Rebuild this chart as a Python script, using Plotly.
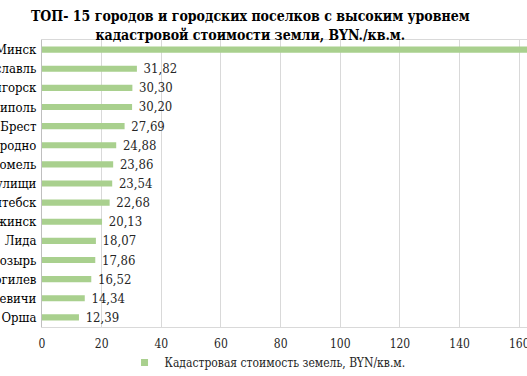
import plotly.graph_objects as go

cities = ["Минск", "Заславль", "Солигорск", "Фаниполь", "Брест", "Гродно", "Гомель",
          "Мачулищи", "Витебск", "Дзержинск", "Лида", "Мозырь", "Могилев", "Смолевичи", "Орша"]
values = [175.0, 31.82, 30.30, 30.20, 27.69, 24.88, 23.86, 23.54, 22.68, 20.13, 18.07,
          17.86, 16.52, 14.34, 12.39]
value_labels = ["\u00a0" + f"{v:.2f}".replace(".", ",") for v in values]
x_ticks = [0, 20, 40, 60, 80, 100, 120, 140, 160]
series_name = "Кадастровая стоимость земель, BYN/кв.м."
title_text = "ТОП- 15 городов и городских поселков с высоким уровнем<br>кадастровой стоимости земли, BYN./кв.м."

FONT = "DejaVu Serif Condensed, DejaVu Serif"
GREEN = "#a9d08e"

fig = go.Figure()
fig.add_trace(go.Bar(
    x=values, y=cities, orientation="h",
    marker=dict(color=GREEN, line=dict(width=0)),
    text=value_labels, textposition="outside", cliponaxis=True, constraintext="none",
    textfont=dict(family=FONT, size=13, color="#262626"),
    name=series_name, showlegend=False,
))
# legend entry with a small square swatch
fig.add_trace(go.Scatter(
    x=[None], y=[None], mode="markers", name=series_name,
    marker=dict(symbol="square", size=7, color=GREEN), showlegend=True,
))

fig.update_layout(
    width=527, height=376,
    margin=dict(l=42, r=0, t=40, b=49, autoexpand=False),
    paper_bgcolor="white", plot_bgcolor="white",
    bargap=0.68,
    title=dict(text=title_text, x=0.475, xanchor="center", xref="container",
               y=0.943, yanchor="top", yref="container",
               font=dict(family=FONT, size=14, color="#000000", weight="bold")),
    showlegend=True,
    legend=dict(orientation="h", x=0.465, xanchor="center", y=-0.073, yanchor="top",
                bgcolor="rgba(0,0,0,0)",
                font=dict(family=FONT, size=12, color="#262626"),
                itemwidth=30, traceorder="normal"),
    font=dict(family=FONT, color="#262626"),
)

fig.update_xaxes(range=[0, 162.6], tickvals=x_ticks, ticktext=[str(t) for t in x_ticks],
                 showgrid=True, gridcolor="#d9d9d9", gridwidth=1,
                 showline=True, linecolor="#d9d9d9", mirror=True, zeroline=False,
                 ticks="", ticklabelstandoff=6, ticklabeloverflow="allow",
                 tickfont=dict(family=FONT, size=12, color="#262626"), automargin=False)
fig.update_yaxes(autorange="reversed", showgrid=False, showline=True, linecolor="#bfbfbf",
                 ticks="outside", ticklen=2, tickcolor="rgba(0,0,0,0)", ticklabelstandoff=0,
                 ticklabeloverflow="allow",
                 tickfont=dict(family=FONT, size=13, color="#000000"), automargin=False)

fig.write_html("out.html", config={"displayModeBar": False},
               post_script="document.body.style.margin='0px';document.body.style.overflow='hidden';")
